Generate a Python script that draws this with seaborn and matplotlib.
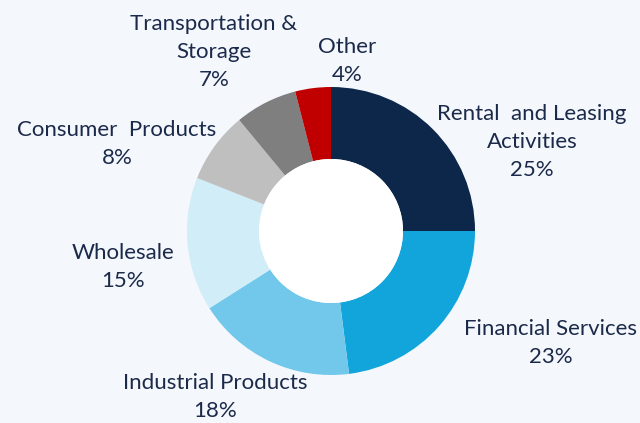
import matplotlib.pyplot as plt
import seaborn as sns
from matplotlib.patches import Circle

# sector shares (%), clockwise from 12 o'clock
sectors = ["Rental and Leasing Activities", "Financial Services", "Industrial Products",
           "Wholesale", "Consumer Products", "Transportation & Storage", "Other"]
shares = [25, 23, 18, 15, 8, 7, 4]
label_lines = ["Rental  and Leasing\nActivities", "Financial Services", "Industrial Products",
               "Wholesale", "Consumer  Products", "Transportation &\nStorage", "Other"]
colors = ["#0c2749", "#12a5dc", "#71c8eb", "#d0edf8", "#bfbfbf", "#7f7f7f", "#c00000"]

sns.set_style("white")
plt.rcParams["font.family"] = ["Lato", "DejaVu Sans"]

bg = "#f4f7fb"
txt = "#1b2a4a"

fig = plt.figure(figsize=(6.4, 4.23), dpi=100, facecolor=bg)
ax = fig.add_axes([0, 0, 1, 1])
ax.set_facecolor(bg)

cx, cy, r = 331, 192, 144
ax.pie(shares, colors=colors, startangle=90, counterclock=False,
       center=(cx, cy), radius=r, frame=True,
       wedgeprops=dict(width=r / 2, linewidth=0))
ax.add_patch(Circle((cx, cy), r / 2, facecolor="white", edgecolor="none", zorder=3))

# label block centres in pixel space, y measured from top
label_pos = [(532, 142), (551, 343), (215, 397), (123, 267), (117, 144), (214, 52), (347, 61)]
for lab, val, (x, y) in zip(label_lines, shares, label_pos):
    ax.text(x, 423 - y, f"{lab}\n{val}%", ha="center", va="center", color=txt,
            fontsize=16, linespacing=1.5, transform=ax.transData)

ax.set_xlim(0, 640)
ax.set_ylim(0, 423)
ax.set_aspect("equal")
ax.axis("off")
fig.savefig("out.png", dpi=100, facecolor=bg)
